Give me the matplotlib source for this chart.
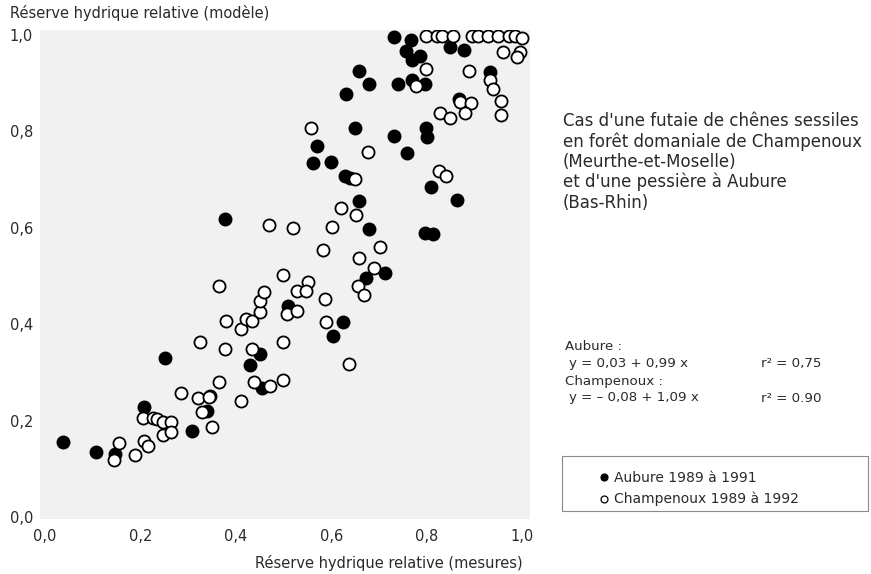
import matplotlib
matplotlib.use('Agg')
import matplotlib.pyplot as plt
from matplotlib.patches import Rectangle
from matplotlib.lines import Line2D

# Aubure 1989 a 1991 (points pleins)
aubure_x = [0.037, 0.106, 0.147, 0.208, 0.251, 0.309, 0.339, 0.346, 0.451, 0.429,
            0.456, 0.377, 0.509, 0.624, 0.604, 0.600, 0.562, 0.570, 0.629, 0.639,
            0.659, 0.679, 0.713, 0.673, 0.651, 0.732, 0.799, 0.800, 0.760, 0.810,
            0.863, 0.797, 0.813, 0.631, 0.659, 0.679, 0.741, 0.769, 0.797, 0.732,
            0.768, 0.758, 0.769, 0.787, 0.849, 0.879, 0.933, 0.869]
aubure_y = [0.155, 0.135, 0.131, 0.229, 0.329, 0.178, 0.220, 0.251, 0.338, 0.316,
            0.268, 0.619, 0.438, 0.405, 0.376, 0.737, 0.735, 0.770, 0.707, 0.704,
            0.656, 0.597, 0.507, 0.496, 0.806, 0.790, 0.806, 0.789, 0.755, 0.685,
            0.657, 0.589, 0.587, 0.878, 0.926, 0.898, 0.898, 0.907, 0.897, 0.995,
            0.989, 0.967, 0.948, 0.956, 0.975, 0.968, 0.923, 0.867]

# Champenoux 1989 a 1992 (points vides)
champ_x = [0.155, 0.145, 0.189, 0.208, 0.216, 0.206, 0.227, 0.234, 0.248, 0.264,
           0.248, 0.264, 0.285, 0.320, 0.343, 0.330, 0.350, 0.365, 0.326, 0.378,
           0.379, 0.365, 0.411, 0.439, 0.471, 0.435, 0.412, 0.422, 0.435, 0.450,
           0.450, 0.460, 0.499, 0.499, 0.470, 0.519, 0.601, 0.621, 0.652, 0.582,
           0.658, 0.702, 0.690, 0.657, 0.669, 0.500, 0.552, 0.528, 0.548, 0.587,
           0.507, 0.528, 0.589, 0.638, 0.558, 0.678, 0.650, 0.827, 0.841, 0.778,
           0.799, 0.890, 0.933, 0.940, 0.957, 0.957, 0.871, 0.893, 0.881, 0.828,
           0.849, 0.960, 0.997, 0.990,
           0.798, 0.821, 0.833, 0.855, 0.895, 0.909, 0.928, 0.950, 0.973, 0.985, 1.000]
champ_y = [0.153, 0.118, 0.128, 0.158, 0.148, 0.206, 0.205, 0.203, 0.198, 0.198,
           0.170, 0.177, 0.258, 0.246, 0.248, 0.218, 0.187, 0.281, 0.362, 0.349,
           0.407, 0.480, 0.241, 0.281, 0.272, 0.349, 0.389, 0.411, 0.407, 0.426,
           0.447, 0.467, 0.363, 0.284, 0.606, 0.600, 0.602, 0.640, 0.627, 0.554,
           0.537, 0.559, 0.517, 0.480, 0.461, 0.501, 0.487, 0.469, 0.469, 0.452,
           0.420, 0.427, 0.404, 0.317, 0.806, 0.757, 0.700, 0.718, 0.707, 0.894,
           0.929, 0.925, 0.907, 0.887, 0.862, 0.833, 0.860, 0.858, 0.838, 0.838,
           0.828, 0.965, 0.965, 0.953,
           0.998, 0.998, 0.998, 0.998, 0.998, 0.998, 0.998, 0.998, 0.998, 0.998, 0.993]

ticks = [0.0, 0.2, 0.4, 0.6, 0.8, 1.0]
tick_labels = ['0,0', '0,2', '0,4', '0,6', '0,8', '1,0']

txt = '#2a2a2a'
W, H = 871, 574

fig = plt.figure(figsize=(8.71, 5.74), dpi=100)
ax = fig.add_axes([40 / W, (H - 519.4) / H, 490 / W, (519.4 - 30) / H])
ax.set_facecolor('#f1f1f1')
for s in ax.spines.values():
    s.set_visible(False)
ax.set_xlim(-0.0105, 1.017)
ax.set_ylim(-0.005, 1.01)

ax.scatter(aubure_x, aubure_y, s=76, c='black', edgecolors='black', linewidths=1.3, zorder=2)
ax.scatter(champ_x, champ_y, s=76, c='white', edgecolors='black', linewidths=1.3, zorder=3)

ax.set_xticks(ticks)
ax.set_xticklabels(tick_labels)
ax.set_yticks(ticks)
ax.set_yticklabels(tick_labels)
ax.tick_params(length=0, labelsize=10.5, labelcolor=txt)
ax.tick_params(axis='x', pad=7)
ax.tick_params(axis='y', pad=5)

fig.text(10 / W, 1 - 13 / H, 'Réserve hydrique relative (modèle)', fontsize=10.5,
         color=txt, ha='left', va='center')
fig.text(523 / W, 1 - 563 / H, 'Réserve hydrique relative (mesures)', fontsize=10.5,
         color=txt, ha='right', va='center')

# texte de droite
fig.text(563 / W, 1 - 112 / H,
         "Cas d'une futaie de chênes sessiles\nen forêt domaniale de Champenoux\n"
         "(Meurthe-et-Moselle)\net d'une pessière à Aubure\n(Bas-Rhin)",
         fontsize=12, color=txt, ha='left', va='top', linespacing=1.15)

eq = dict(fontsize=9.6, color=txt, va='center')
fig.text(565 / W, 1 - 347 / H, 'Aubure :', ha='left', **eq)
fig.text(569 / W, 1 - 363 / H, 'y = 0,03 + 0,99 x', ha='left', **eq)
fig.text(761 / W, 1 - 363 / H, 'r² = 0,75', ha='left', **eq)
fig.text(565 / W, 1 - 382 / H, 'Champenoux :', ha='left', **eq)
fig.text(569 / W, 1 - 398 / H, 'y = – 0,08 + 1,09 x', ha='left', **eq)
fig.text(761 / W, 1 - 398 / H, 'r² = 0.90', ha='left', **eq)

# cadre de legende
fig.patches.append(Rectangle((562 / W, 1 - 511 / H), 306 / W, 55 / H,
                             transform=fig.transFigure, fill=False,
                             edgecolor='#8a8a8a', linewidth=0.8))
handles = [Line2D([], [], marker='o', ls='none', ms=5, mfc='black', mec='black', mew=0.9),
           Line2D([], [], marker='o', ls='none', ms=5, mfc='white', mec='black', mew=0.9)]
fig.legend(handles, ['Aubure 1989 à 1991', 'Champenoux 1989 à 1992'],
           loc='upper left', bbox_to_anchor=(600 / W, 1 - 471 / H), frameon=False,
           fontsize=10, labelcolor=txt, handlelength=0.6, handletextpad=0.4,
           labelspacing=0.5, borderpad=0, borderaxespad=0)

fig.savefig('out.png', dpi=100)
